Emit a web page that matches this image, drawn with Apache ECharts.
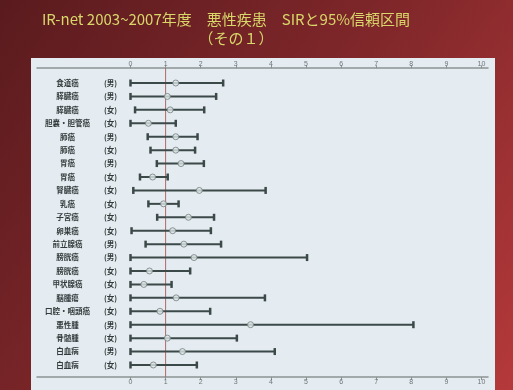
<!DOCTYPE html>
<html>
<head>
<meta charset="utf-8">
<script src="https://cdn.jsdelivr.net/npm/echarts@6/dist/echarts.min.js"></script>
<style>
  html, body { margin: 0; padding: 0; }
  #chart { width: 513px; height: 390px; }
</style>
</head>
<body>
<div id="chart"></div>
<script>
// Sites and sex for each row (top to bottom)
const sites = [
  '食道癌', '膵臓癌', '膵臓癌', '胆嚢・胆管癌', '肺癌', '肺癌', '胃癌', '胃癌',
  '腎臓癌', '乳癌', '子宮癌', '卵巣癌', '前立腺癌', '膀胱癌', '膀胱癌', '甲状腺癌',
  '脳腫瘍', '口腔・咽頭癌', '悪性腫', '骨髄腫', '白血病', '白血病'
];
const sexes = [
  '男', '男', '女', '女', '男', '女', '男', '女',
  '女', '女', '女', '女', '男', '男', '女', '女',
  '女', '女', '男', '女', '男', '女'
];
// Standardized incidence ratio and its 95% confidence interval
const sir = [
  1.29, 1.05, 1.13, 0.51, 1.29, 1.29, 1.44, 0.63,
  1.96, 0.94, 1.65, 1.20, 1.52, 1.81, 0.54, 0.38,
  1.30, 0.84, 3.42, 1.05, 1.48, 0.65
];
const ciLow = [
  0.00, 0.00, 0.13, 0.00, 0.49, 0.57, 0.75, 0.27,
  0.08, 0.51, 0.76, 0.03, 0.43, 0.00, 0.00, 0.00,
  0.00, 0.00, 0.00, 0.00, 0.00, 0.00
];
const ciHigh = [
  2.64, 2.44, 2.10, 1.29, 1.91, 1.84, 2.09, 1.06,
  3.85, 1.37, 2.38, 2.29, 2.58, 5.03, 1.70, 1.17,
  3.83, 2.27, 8.06, 3.03, 4.11, 1.89
];
// Reference line SIR = 1 and the axis range
const refValue = 1;
const axisMin = 0;
const axisMax = 10;

const chart = echarts.init(document.getElementById('chart'));

const barColor = '#3b4948';
const labelFont = '"Noto Sans CJK JP", "Noto Sans", sans-serif';

function renderInterval(params, api) {
  const lo = api.coord([api.value(0), api.value(2)]);
  const hi = api.coord([api.value(1), api.value(2)]);
  const h = 3.5;
  return {
    type: 'group',
    children: [
      { type: 'line', shape: { x1: lo[0], y1: lo[1], x2: hi[0], y2: hi[1] },
        style: { stroke: barColor, lineWidth: 2 } },
      { type: 'line', shape: { x1: lo[0], y1: lo[1] - h, x2: lo[0], y2: lo[1] + h },
        style: { stroke: barColor, lineWidth: 2.5 } },
      { type: 'line', shape: { x1: hi[0], y1: hi[1] - h, x2: hi[0], y2: hi[1] + h },
        style: { stroke: barColor, lineWidth: 2.5 } }
    ]
  };
}

const option = {
  animation: false,
  backgroundColor: {
    type: 'linear', x: 0, y: 0, x2: 1, y2: 1,
    colorStops: [
      { offset: 0, color: '#5a1b1e' },
      { offset: 0.5, color: '#80272a' },
      { offset: 1, color: '#b5393a' }
    ]
  },
  graphic: [
    { type: 'rect', z: -10, silent: true,
      shape: { x: 31, y: 58, width: 464, height: 340 },
      style: { fill: '#e4ebf1' } },
    { type: 'text', x: 226, y: 12,
      style: { text: 'IR-net 2003~2007年度　悪性疾患　SIRと95%信頼区間',
               fill: '#d9d66a', align: 'center', font: '15px ' + labelFont } },
    { type: 'text', x: 236, y: 31,
      style: { text: '（その１）', fill: '#d9d66a', align: 'center', font: '15px ' + labelFont } }
  ],
  grid: [
    { left: 130.5, right: 31.5, top: 76.3, bottom: 18.3 },
    { left: 37, right: 25, top: 68, bottom: 13 }
  ],
  xAxis: [
    { gridIndex: 0, type: 'value', position: 'bottom', offset: 5.3,
      min: axisMin, max: axisMax, interval: 1,
      axisLine: { show: false }, splitLine: { show: false },
      axisTick: { show: true, length: 3, lineStyle: { color: '#8a9292' } },
      axisLabel: { fontSize: 7, color: '#6f7777', margin: 2 } },
    { gridIndex: 0, type: 'value', position: 'top', offset: 8,
      min: axisMin, max: axisMax, interval: 1,
      axisLine: { show: false }, splitLine: { show: false },
      axisTick: { show: true, length: 3, lineStyle: { color: '#8a9292' } },
      axisLabel: { fontSize: 7, color: '#6f7777', margin: 1 } },
    { gridIndex: 1, type: 'value', position: 'top',
      min: -2.664, max: 10.185,
      axisLine: { show: true, onZero: false, lineStyle: { color: '#8c9494', width: 1.5 } },
      axisTick: { show: false }, axisLabel: { show: false }, splitLine: { show: false } },
    { gridIndex: 1, type: 'value', position: 'bottom',
      min: -2.664, max: 10.185,
      axisLine: { show: true, onZero: false, lineStyle: { color: '#8c9494', width: 1.5 } },
      axisTick: { show: false }, axisLabel: { show: false }, splitLine: { show: false } }
  ],
  yAxis: [
    { gridIndex: 0, type: 'category', inverse: true, data: sites,
      axisLine: { show: false }, axisTick: { show: false }, splitLine: { show: false },
      axisLabel: {
        interval: 0,
        margin: 10,
        formatter: (v, i) => `{n|${v}}{g|}{s|(${sexes[i]})}`,
        rich: {
          n: { width: 62, align: 'center', fontSize: 7.5, fontWeight: 'bold', color: '#333b3b', fontFamily: labelFont },
          g: { width: 2 },
          s: { width: 20, align: 'center', fontSize: 7.5, fontWeight: 'bold', color: '#333b3b', fontFamily: labelFont }
        }
      } },
    { gridIndex: 1, type: 'value', min: 0, max: 1, show: false }
  ],
  series: [
    { type: 'line', xAxisIndex: 2, yAxisIndex: 1, symbol: 'none', silent: true,
      data: [[refValue, 0], [refValue, 1]],
      lineStyle: { color: '#b06a66', width: 1 }, z: 1 },
    { type: 'custom', xAxisIndex: 0, yAxisIndex: 0, renderItem: renderInterval,
      encode: { x: [0, 1], y: 2 },
      data: sites.map((s, i) => [ciLow[i], ciHigh[i], i]), z: 2 },
    { type: 'scatter', xAxisIndex: 0, yAxisIndex: 0, symbol: 'circle', symbolSize: 6,
      itemStyle: { color: '#dfe6e6', borderColor: '#73807f', borderWidth: 1 },
      data: sites.map((s, i) => [sir[i], i]), z: 3 }
  ]
};

chart.setOption(option);
</script>
</body>
</html>
